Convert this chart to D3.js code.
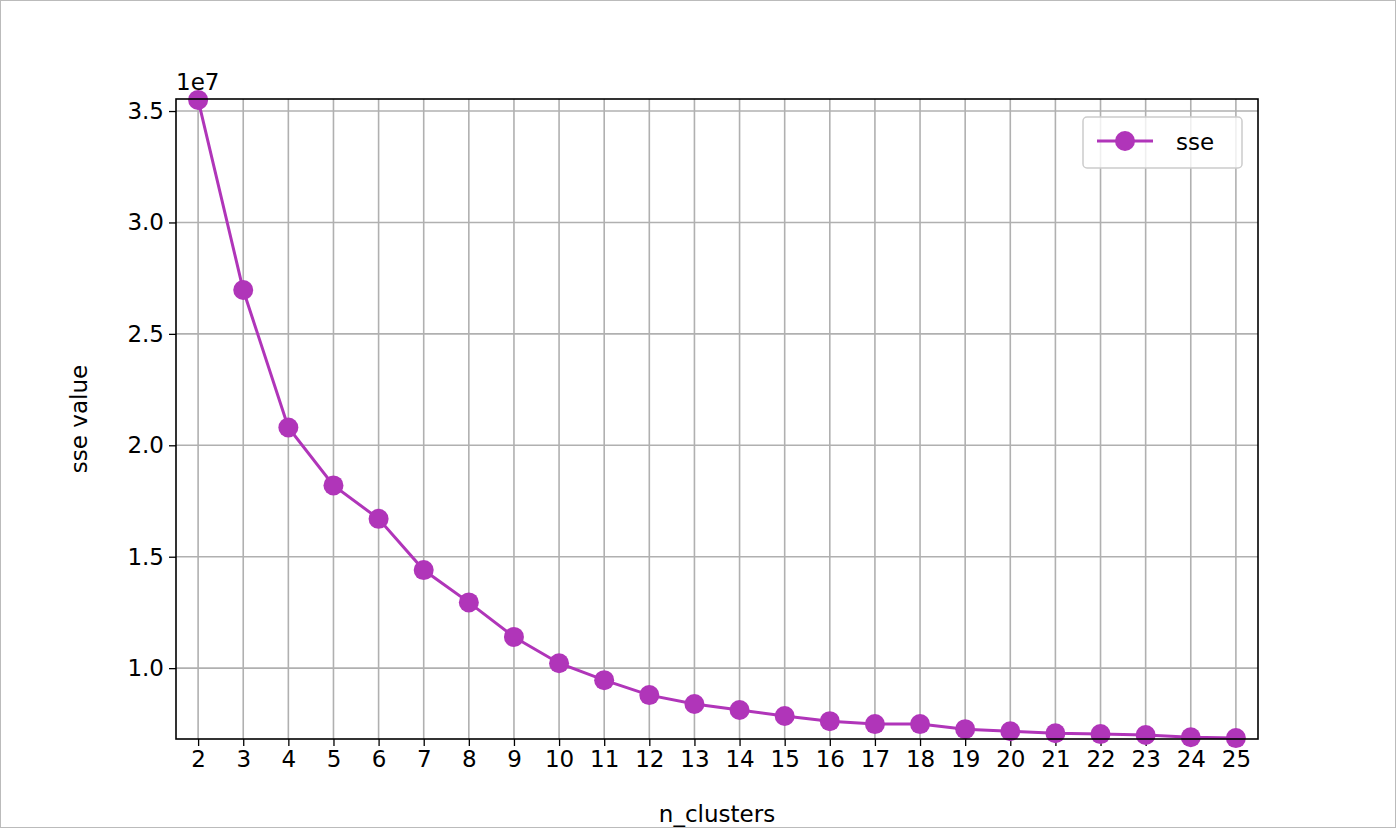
<!DOCTYPE html><html><head><meta charset="utf-8"><script src="https://cdn.jsdelivr.net/npm/d3@7"></script>
<style>body{margin:0;background:#fff}svg{display:block;font-family:"DejaVu Sans"}</style></head><body>
<svg id="c" width="1396" height="828"></svg>
<script>
const clusters=[2,3,4,5,6,7,8,9,10,11,12,13,14,15,16,17,18,19,20,21,22,23,24,25];
const sse=[3.55,2.697,2.08,1.82,1.67,1.44,1.295,1.14,1.022,0.946,0.879,0.839,0.812,0.785,0.762,0.749,0.749,0.726,0.717,0.708,0.704,0.70,0.69,0.686];
const yTicks=[1.0,1.5,2.0,2.5,3.0,3.5];
const color="#b035b9";
const svg=d3.select("#c");
svg.append("rect").attr("x",0.5).attr("y",0.5).attr("width",1395).attr("height",827).attr("fill","none").attr("stroke","#bbb");
const L=176,R=1258,T=99,B=739;
const x=d3.scaleLinear().domain([1.51,25.49]).range([L,R]);
const y=d3.scaleLinear().domain([0.682,3.554]).range([B,T]);
const g=svg.append("g");
clusters.forEach(c=>g.append("line").attr("x1",x(c)).attr("x2",x(c)).attr("y1",T).attr("y2",B).attr("stroke","#b0b0b0").attr("stroke-width",1.6));
yTicks.forEach(t=>g.append("line").attr("x1",L).attr("x2",R).attr("y1",y(t)).attr("y2",y(t)).attr("stroke","#b0b0b0").attr("stroke-width",1.6));
const xa=svg.append("g").attr("transform",`translate(0,${B})`).call(d3.axisBottom(x).tickValues(clusters).tickFormat(d3.format("d")).tickSize(7).tickPadding(5));
const ya=svg.append("g").attr("transform",`translate(${L},0)`).call(d3.axisLeft(y).tickValues(yTicks).tickFormat(d3.format(".1f")).tickSize(7).tickPadding(5));
[xa,ya].forEach(a=>{a.select(".domain").remove();a.selectAll("text").attr("font-size",23).attr("fill","#000").attr("font-family","DejaVu Sans");a.selectAll("line").attr("stroke","#000").attr("stroke-width",1.3);});
svg.append("path").datum(clusters.map((c,i)=>[c,sse[i]])).attr("fill","none").attr("stroke",color).attr("stroke-width",3)
 .attr("d",d3.line().x(d=>x(d[0])).y(d=>y(d[1])));
svg.selectAll("circle.p").data(clusters).join("circle").attr("cx",d=>x(d)).attr("cy",(d,i)=>y(sse[i])).attr("r",10).attr("fill",color);
svg.append("rect").attr("x",L).attr("y",T).attr("width",R-L).attr("height",B-T).attr("fill","none").attr("stroke","#000").attr("stroke-width",1.6);
svg.append("text").attr("x",176).attr("y",90).attr("font-size",23).text("1e7");
svg.append("text").attr("x",717).attr("y",822).attr("text-anchor","middle").attr("font-size",23).text("n_clusters");
svg.append("text").attr("transform","translate(87,419) rotate(-90)").attr("text-anchor","middle").attr("font-size",23).text("sse value");
const lg=svg.append("g");
lg.append("rect").attr("x",1083).attr("y",117).attr("width",159).attr("height",51).attr("rx",4).attr("fill","#fff").attr("fill-opacity",0.8).attr("stroke","#ccc").attr("stroke-width",1.5);
lg.append("line").attr("x1",1097).attr("x2",1153).attr("y1",141).attr("y2",141).attr("stroke",color).attr("stroke-width",3);
lg.append("circle").attr("cx",1125).attr("cy",141).attr("r",10).attr("fill",color);
lg.append("text").attr("x",1176).attr("y",150).attr("font-size",23).text("sse");
</script></body></html>
